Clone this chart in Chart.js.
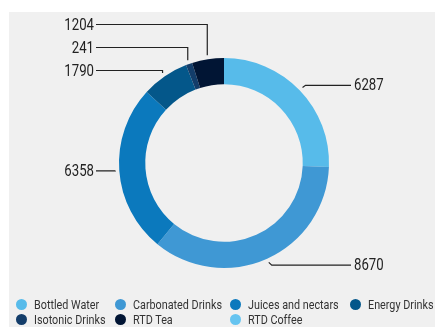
<!DOCTYPE html>
<html>
<head>
    <meta name="viewport" content="width=device-width, initial-scale=1.0">
    <title>Drinks volume</title>
    <style>
        body { margin: 0; padding: 0; background: #fff; font-family: Roboto, "Liberation Sans", sans-serif; }
        #panel { position: absolute; left: 9px; top: 12px; width: 426px; height: 315px; background: #f0f0f0; }
        #wrap { position: absolute; left: 0; top: 0; width: 435px; height: 327px; }
        #legend { position: absolute; left: 16px; top: 297px; display: grid; grid-template-columns: 99px 115px 120px auto; font-size: 13px; color: #333; }
        #legend div { display: flex; align-items: center; height: 15px; white-space: nowrap; }
        #legend span.dot { width: 11px; height: 11px; border-radius: 50%; margin-right: 7px; flex: none; }
        #legend span.txt { display: inline-block; transform: scaleX(0.83); transform-origin: left center; }
    </style>
</head>
<body>
    <div id="panel"></div>
    <div id="wrap"><canvas id="chart"></canvas></div>
    <div id="legend"></div>
    <script src="https://cdn.jsdelivr.net/npm/chart.js"></script>
    <script>
        const categories = ['Bottled Water', 'Carbonated Drinks', 'Juices and nectars', 'Energy Drinks', 'Isotonic Drinks', 'RTD Tea', 'RTD Coffee'];
        const values = [6287, 8670, 6358, 1790, 241, 1204, 0];
        const colors = ['#57bbea', '#3f98d4', '#0b79bd', '#04578a', '#133d6a', '#011534', '#66c4f0'];

        // leader lines + value labels (font squeezed to look condensed)
        const leaderLabels = {
            id: 'leaderLabels',
            afterDatasetsDraw(chart) {
                const ctx = chart.ctx;
                const meta = chart.getDatasetMeta(0);
                const left = [];
                const right = [];
                meta.data.forEach((arc, i) => {
                    const v = values[i];
                    if (!v) return;
                    const p = arc.getProps(['x', 'y', 'startAngle', 'endAngle', 'outerRadius'], true);
                    const mid = (p.startAngle + p.endAngle) / 2;
                    const r = p.outerRadius + 4;
                    const item = {
                        v, mid,
                        x0: p.x + Math.cos(mid) * r,
                        y0: p.y + Math.sin(mid) * r
                    };
                    item.ly = item.y0 + 3 * Math.sin(mid);
                    (Math.cos(mid) >= 0 ? right : left).push(item);
                });

                // stack the left side labels from the bottom upwards
                left.sort((a, b) => b.y0 - a.y0);
                let prev = Infinity;
                left.forEach(it => {
                    const y = Math.min(it.ly, prev - 23);
                    it.ly = y;
                    prev = y;
                });

                const text = (s, x, y, align) => {
                    ctx.save();
                    ctx.translate(x, y);
                    ctx.scale(0.8, 1);
                    ctx.textAlign = align;
                    ctx.fillText(s, 0, 0);
                    ctx.restore();
                };

                ctx.save();
                ctx.strokeStyle = '#222';
                ctx.lineWidth = 1.2;
                ctx.fillStyle = '#222';
                ctx.font = '16.5px Roboto, "Liberation Sans", sans-serif';
                ctx.textBaseline = 'middle';

                right.forEach(it => {
                    ctx.beginPath();
                    ctx.moveTo(it.x0, it.y0);
                    ctx.lineTo(it.x0 + 3, it.ly);
                    ctx.lineTo(351, it.ly);
                    ctx.stroke();
                    text(String(it.v), 354, it.ly + 1, 'left');
                });
                left.forEach(it => {
                    ctx.beginPath();
                    ctx.moveTo(it.x0, it.y0);
                    ctx.lineTo(it.x0, it.ly);
                    ctx.lineTo(96, it.ly);
                    ctx.stroke();
                    text(String(it.v), 94, it.ly + 1, 'right');
                });
                ctx.restore();
            }
        };

        new Chart(document.getElementById('chart'), {
            type: 'doughnut',
            data: {
                labels: categories,
                datasets: [{
                    data: values,
                    backgroundColor: colors,
                    borderWidth: 0
                }]
            },
            options: {
                responsive: true,
                maintainAspectRatio: false,
                animation: false,
                cutout: '75%',
                layout: { padding: { top: 58, bottom: 59, left: 119, right: 106 } },
                plugins: {
                    legend: { display: false },
                    tooltip: { enabled: false }
                }
            },
            plugins: [leaderLabels]
        });

        // legend laid out in aligned columns
        const legendEl = document.getElementById('legend');
        categories.forEach((c, i) => {
            const d = document.createElement('div');
            d.innerHTML = '<span class="dot" style="background:' + colors[i] + '"></span><span class="txt">' + c + '</span>';
            legendEl.appendChild(d);
        });
    </script>
</body>
</html>
